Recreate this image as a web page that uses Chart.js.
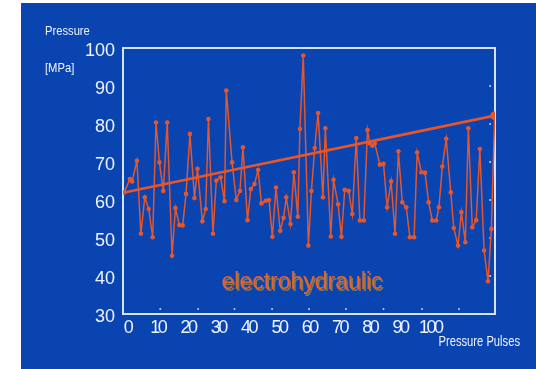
<!DOCTYPE html>
<html><head><meta charset="utf-8">
<script src="https://cdn.jsdelivr.net/npm/chart.js@4/dist/chart.umd.min.js"></script>
<style>
html,body{margin:0;padding:0;background:#fff;width:536px;height:369px;overflow:hidden;}
#wrap{position:absolute;left:21px;top:3px;width:515px;height:366px;background:#0a44b1;}
</style></head><body>
<div id="wrap"><canvas id="c"></canvas></div>
<script>
// Pressure pulse number (x) and measured pressure in MPa (y)
const pulseX = [-0.4,1.5,2.2,3.8,5.1,6.4,7.7,9.0,10.1,11.2,12.5,13.8,15.4,16.5,17.8,18.9,20.0,21.3,22.8,23.8,25.4,26.5,27.4,28.9,30.0,
  31.4,32.7,33.3,35.2,36.6,37.8,38.8,40.3,41.4,42.6,43.8,44.9,46.3,47.4,48.5,49.7,51.1,52.2,53.1,54.5,55.6,56.9,57.6,58.7,60.4,
  61.4,62.5,63.6,65.2,66.0,67.8,68.7,70.2,71.3,72.4,73.7,74.9,76.2,77.4,78.7,79.9,80.7,81.5,82.3,84.0,85.2,86.4,87.7,89.0,90.1,91.4,
  92.7,93.9,95.3,96.3,97.7,98.9,100.1,101.3,102.6,103.5,104.6,105.9,107.4,108.4,109.8,110.9,112.2,113.2,114.5,115.8,117.0,118.4,119.7,120.8,121.9];
const pressure = [62.0,65.5,64.9,70.3,51.1,60.7,57.6,50.2,80.4,69.9,62.4,80.4,45.3,57.9,53.4,53.3,61.6,77.4,60.5,68.2,54.4,57.6,81.3,51.1,65.1,
  66.0,59.7,88.8,69.9,60.0,62.4,73.9,54.7,62.9,64.2,67.9,59.1,59.8,60.0,50.3,63.3,51.9,55.3,60.7,53.7,67.3,55.6,78.7,98.0,48.0,
  62.4,73.7,82.9,60.7,78.9,50.4,65.3,58.9,50.3,62.7,62.4,56.3,76.3,54.6,54.6,78.4,74.9,74.3,74.9,69.3,69.5,58.1,64.9,51.1,72.8,59.4,
  58.1,50.2,50.2,72.5,67.3,67.2,59.4,54.6,54.6,58.1,68.8,76.1,62.0,52.6,48.0,56.8,48.9,78.9,52.8,54.7,73.4,46.7,38.6,52.4,82.4];
// Trend line end points
const trendX = [-0.4, 121.9];
const trendY = [62.0, 82.2];
// Faint grid marker dots
const dotX = [11.5,24.0,36.0,48.4,60.6,72.8,85.2,97.9,110.1, 120.4,120.4,120.4,120.4,120.4,120.4, 85.2];
const dotY = [31.3,31.3,31.3,31.3,31.3,31.3,31.3,31.3,31.3, 90,80,70,60,50,40, 100];
// Tick labels
const xTickValues = [0,10,20,30,40,50,60,70,80,90,100];
const yTickValues = [30,40,50,60,70,80,90,100];
const yTitle = ['Pressure','[MPa]'];
const xTitle = 'Pressure Pulses';
const seriesName = 'electrohydraulic';

const ORANGE = '#e4562c';
const TXT = '#eef3ff';
const SANS = "'Liberation Sans',Arial,sans-serif";

function narrowText(ctx, text, x, y, sx) {
  ctx.save();
  ctx.translate(x, y);
  ctx.scale(sx, 1);
  ctx.fillText(text, 0, 0);
  ctx.restore();
}

const framePlugin = {
  id: 'frame',
  beforeDatasetsDraw(chart) {
    const {ctx, chartArea: a} = chart;
    ctx.save();
    ctx.strokeStyle = '#d6e3ff';
    ctx.lineWidth = 2;
    ctx.strokeRect(a.left, a.top, a.right - a.left, a.bottom - a.top);
    ctx.restore();
  },
  afterDraw(chart) {
    const {ctx, scales} = chart;
    ctx.save();
    ctx.fillStyle = TXT;
    ctx.textBaseline = 'middle';
    ctx.textAlign = 'left';
    ctx.font = "13.5px " + SANS;
    narrowText(ctx, yTitle[0], 24, 28, 0.83);
    narrowText(ctx, yTitle[1], 24, 65, 0.83);
    ctx.font = "14px " + SANS;
    ctx.textAlign = 'right';
    narrowText(ctx, xTitle, 499, 339, 0.8);
    // series name inside the plot
    const cx = scales.x.getPixelForValue(58.3);
    const cy = scales.y.getPixelForValue(38.2);
    ctx.textAlign = 'center';
    ctx.font = "23px " + SANS;
    ctx.fillStyle = '#7d7a55';
    ctx.fillText(seriesName, cx + 1.5, cy + 1.5);
    ctx.fillStyle = '#e8612e';
    ctx.fillText(seriesName, cx, cy);
    ctx.restore();
  }
};

function condenseLabels(s) {
  if (s._condensed) return;
  s._condensed = true;
  const orig = s.drawLabels;
  s.drawLabels = function (area) {
    const ctx = this.ctx;
    ctx.save();
    try { ctx.letterSpacing = '-2.5px'; } catch (e) {}
    orig.call(this, area);
    ctx.restore();
  };
}

new Chart(document.getElementById('c'), {
  type: 'scatter',
  data: {
    datasets: [
      {
        label: 'trend',
        data: trendX.map((x, i) => ({x, y: trendY[i]})),
        showLine: true,
        borderColor: ORANGE,
        backgroundColor: ORANGE,
        borderWidth: 2.6,
        pointRadius: [0, 3.2]
      },
      {
        label: seriesName,
        data: pulseX.map((x, i) => ({x, y: pressure[i]})),
        showLine: true,
        borderColor: ORANGE,
        backgroundColor: ORANGE,
        borderWidth: 1.5,
        pointRadius: 2.3,
        pointBorderWidth: 0,
        tension: 0
      },
      {
        label: 'grid dots',
        data: dotX.map((x, i) => ({x, y: dotY[i]})),
        showLine: false,
        pointRadius: 1,
        pointBorderWidth: 0,
        backgroundColor: 'rgba(215,228,255,0.9)'
      }
    ]
  },
  options: {
    responsive: true,
    maintainAspectRatio: false,
    animation: false,
    events: [],
    layout: {padding: {left: 0, right: 41, top: 45, bottom: 0}},
    plugins: {legend: {display: false}, tooltip: {enabled: false}},
    scales: {
      x: {
        type: 'linear',
        min: -0.8, max: 122,
        afterBuildTicks: s => { s.ticks = xTickValues.map(v => ({value: v})); condenseLabels(s); },
        afterFit: s => { s.height = 55; },
        grid: {display: false, drawTicks: false},
        border: {display: false},
        ticks: {color: TXT, font: {family: SANS, size: 18}, padding: 3, maxRotation: 0, autoSkip: false, labelOffset: 2}
      },
      y: {
        type: 'linear',
        min: 30, max: 100,
        afterBuildTicks: s => { s.ticks = yTickValues.map(v => ({value: v})); },
        afterFit: s => { s.width = 102; },
        grid: {display: false, drawTicks: false},
        border: {display: false},
        ticks: {color: TXT, font: {family: SANS, size: 18}, padding: 8, labelOffset: 3.5}
      }
    }
  },
  plugins: [framePlugin]
});
</script>
</body></html>
